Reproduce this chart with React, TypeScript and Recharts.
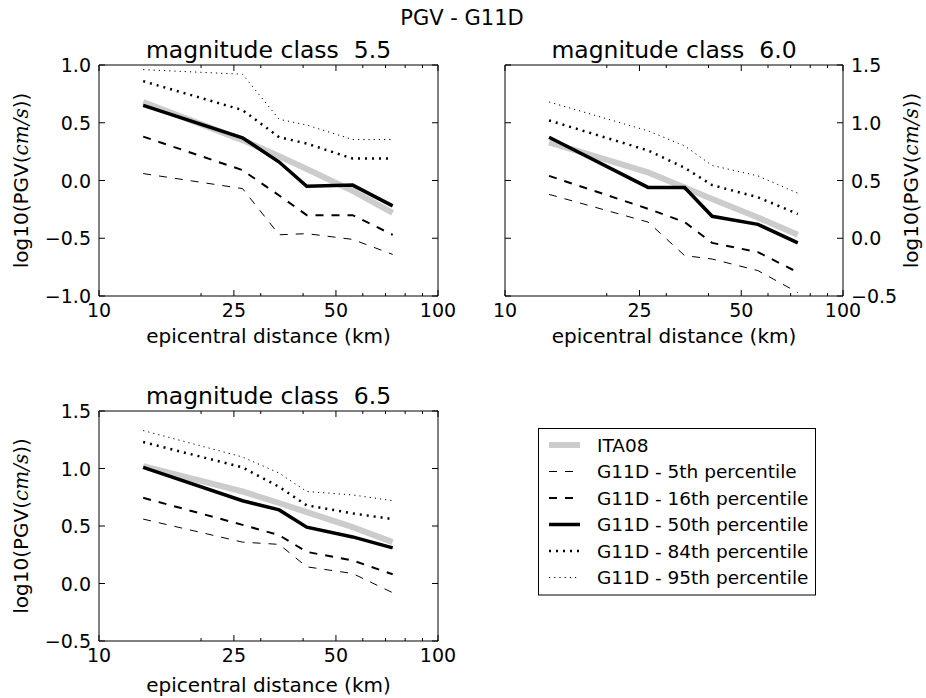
import { LineChart, Line, XAxis, YAxis } from "recharts";

const FONT = "'DejaVu Sans', sans-serif";

// epicentral distance bins (km)
const DIST = [13.5, 26.5, 34, 41, 56, 73.5];
const X_TICKS = [10, 20, 25, 30, 40, 50, 60, 70, 80, 90, 100];
const X_LABELS = [10, 25, 50, 100];
const Y_TICKS_LO = [-1, -0.5, 0, 0.5, 1];
const Y_TICKS_HI = [-0.5, 0, 0.5, 1, 1.5];

// magnitude class 5.5
const M55_ITA08 = [0.68, 0.35, 0.21, 0.1, -0.09, -0.28];
const M55_P5 = [0.06, -0.07, -0.47, -0.46, -0.51, -0.64];
const M55_P16 = [0.38, 0.09, -0.13, -0.3, -0.3, -0.47];
const M55_P50 = [0.65, 0.37, 0.16, -0.05, -0.04, -0.22];
const M55_P84 = [0.86, 0.61, 0.375, 0.32, 0.19, 0.19];
const M55_P95 = [0.96, 0.92, 0.53, 0.48, 0.355, 0.355];

// magnitude class 6.0
const M60_ITA08 = [0.83, 0.57, 0.44, 0.34, 0.18, 0.03];
const M60_P5 = [0.38, 0.14, -0.15, -0.18, -0.28, -0.47];
const M60_P16 = [0.54, 0.255, 0.14, -0.04, -0.12, -0.295];
const M60_P50 = [0.875, 0.44, 0.44, 0.19, 0.12, -0.04];
const M60_P84 = [1.02, 0.76, 0.61, 0.46, 0.355, 0.21];
const M60_P95 = [1.18, 0.93, 0.8, 0.63, 0.54, 0.39];

// magnitude class 6.5
const M65_ITA08 = [1.02, 0.8, 0.7, 0.62, 0.49, 0.36];
const M65_P5 = [0.56, 0.36, 0.34, 0.145, 0.087, -0.08];
const M65_P16 = [0.745, 0.51, 0.42, 0.275, 0.2, 0.08];
const M65_P50 = [1.01, 0.72, 0.64, 0.49, 0.405, 0.31];
const M65_P84 = [1.23, 1.01, 0.84, 0.68, 0.61, 0.56];
const M65_P95 = [1.33, 1.1, 0.96, 0.8, 0.77, 0.72];

const SERIES = [
  { key: "ita08", name: "ITA08", color: "#cccccc", width: 6, dash: undefined },
  { key: "p5", name: "G11D - 5th percentile", color: "#000", width: 1, dash: "8 8" },
  { key: "p16", name: "G11D - 16th percentile", color: "#000", width: 2, dash: "8 8" },
  { key: "p50", name: "G11D - 50th percentile", color: "#000", width: 3.5, dash: undefined },
  { key: "p84", name: "G11D - 84th percentile", color: "#000", width: 2.5, dash: "2 5" },
  { key: "p95", name: "G11D - 95th percentile", color: "#000", width: 1, dash: "1.2 4" },
];

function rows(ita: number[], p5: number[], p16: number[], p50: number[], p84: number[], p95: number[]) {
  return DIST.map((dist, i) => ({
    dist,
    ita08: ita[i],
    p5: p5[i],
    p16: p16[i],
    p50: p50[i],
    p84: p84[i],
    p95: p95[i],
  }));
}

const fmtY = (v: number) => v.toFixed(1).replace("-", "\u2212");

type Geo = { bx: number; by: number; bw: number; bh: number; x0: number; x1: number; y0: number; y1: number };

interface PanelProps {
  geo: Geo;
  title: string;
  data: ReturnType<typeof rows>;
  yDomain: [number, number];
  yTicks: number[];
  ySide: "left" | "right";
  xLabelDy: number;
  yLabelX: number;
}

const AXIS_LINE = { stroke: "#000", strokeWidth: 1 };
const TICK_FS = 19;

function Panel({ geo, title, data, yDomain, yTicks, ySide, xLabelDy, yLabelX }: PanelProps) {
  const { bx, by, bw, bh, x0, x1, y0, y1 } = geo;
  const leftW = x0 - bx;
  const rightW = bx + bw - x1;
  const topH = y0 - by;
  const bottomH = by + bh - y1;
  const cx = (x0 + x1) / 2 - bx;
  const cy = (y0 + y1) / 2 - by;

  const xTick = (side: "top" | "bottom") => (p: any) => {
    const v = p.payload.value;
    const major = X_LABELS.includes(v);
    const len = major ? 6 : 3;
    const dir = side === "bottom" ? -1 : 1;
    return (
      <g>
        <line x1={p.x} x2={p.x} y1={p.y} y2={p.y + dir * len} stroke="#000" strokeWidth={1} />
        {side === "bottom" && major && (
          <text x={p.x} y={p.y + 21} textAnchor="middle" fontSize={TICK_FS} fontFamily={FONT} fill="#000">
            {v}
          </text>
        )}
      </g>
    );
  };

  const yTick = (side: "left" | "right") => (p: any) => {
    const v = p.payload.value;
    const dir = side === "left" ? 1 : -1;
    return (
      <g>
        <line x1={p.x} x2={p.x + dir * 6} y1={p.y} y2={p.y} stroke="#000" strokeWidth={1} />
        {side === ySide && (
          <text
            x={side === "left" ? p.x - 8 : p.x + 8}
            y={p.y + 7}
            textAnchor={side === "left" ? "end" : "start"}
            fontSize={TICK_FS}
            fontFamily={FONT}
            fill="#000"
          >
            {fmtY(v)}
          </text>
        )}
      </g>
    );
  };

  const yLabel = () => {
    const lx = yLabelX - bx;
    return (
      <text
        x={lx}
        y={cy}
        transform={`rotate(-90 ${lx} ${cy})`}
        textAnchor="middle"
        fontSize={20}
        fontFamily={FONT}
        fill="#000"
      >
        log10(PGV(
        <tspan fontFamily="'DejaVu Serif', serif" fontStyle="italic">
          cm/s
        </tspan>
        ))
      </text>
    );
  };

  return (
    <div style={{ position: "absolute", left: bx, top: by }}>
      <LineChart width={bw} height={bh} data={data} margin={{ top: 0, right: 0, bottom: 0, left: 0 }}>
        <XAxis
          xAxisId="b"
          dataKey="dist"
          type="number"
          scale="log"
          domain={[10, 100]}
          allowDataOverflow
          ticks={X_TICKS}
          interval={0}
          orientation="bottom"
          height={bottomH}
          tickSize={0}
          tickMargin={0}
          tickLine={false}
          axisLine={AXIS_LINE}
          tick={xTick("bottom")}
          label={() => (
            <text x={cx} y={y1 - by + xLabelDy} textAnchor="middle" fontSize={20} fontFamily={FONT} fill="#000">
              epicentral distance (km)
            </text>
          )}
        />
        <XAxis
          xAxisId="t"
          dataKey="dist"
          type="number"
          scale="log"
          domain={[10, 100]}
          allowDataOverflow
          ticks={X_TICKS}
          interval={0}
          orientation="top"
          height={topH}
          tickSize={0}
          tickMargin={0}
          tickLine={false}
          axisLine={AXIS_LINE}
          tick={xTick("top")}
          label={() => (
            <text
              x={cx}
              y={y0 - by - 7}
              textAnchor="middle"
              fontSize={23.5}
              fontFamily={FONT}
              fill="#000"
              style={{ whiteSpace: "pre" }}
              xmlSpace="preserve"
            >
              {title}
            </text>
          )}
        />
        <YAxis
          yAxisId="l"
          type="number"
          domain={yDomain}
          allowDataOverflow
          ticks={yTicks}
          interval={0}
          orientation="left"
          width={leftW}
          tickSize={0}
          tickMargin={0}
          tickLine={false}
          axisLine={AXIS_LINE}
          tick={yTick("left")}
          label={ySide === "left" ? yLabel : undefined}
        />
        <YAxis
          yAxisId="r"
          type="number"
          domain={yDomain}
          allowDataOverflow
          ticks={yTicks}
          interval={0}
          orientation="right"
          width={rightW}
          tickSize={0}
          tickMargin={0}
          tickLine={false}
          axisLine={AXIS_LINE}
          tick={yTick("right")}
          label={ySide === "right" ? yLabel : undefined}
        />
        {SERIES.map((s) => (
          <Line
            key={s.key}
            xAxisId="b"
            yAxisId="l"
            type="linear"
            dataKey={s.key}
            name={s.name}
            stroke={s.color}
            strokeWidth={s.width}
            strokeDasharray={s.dash}
            dot={false}
            activeDot={false}
            isAnimationActive={false}
          />
        ))}
      </LineChart>
    </div>
  );
}

const G1: Geo = { bx: 0, by: 20, bw: 460, bh: 331, x0: 99, x1: 438, y0: 65, y1: 296 };
const G2: Geo = { bx: 470, by: 20, bw: 456, bh: 331, x0: 505, x1: 843, y0: 65, y1: 296 };
const G3: Geo = { bx: 0, by: 366, bw: 460, bh: 332, x0: 99, x1: 438, y0: 411, y1: 641 };

const LEGEND_ROW0 = 445;
const LEGEND_STEP = 26.5;

export default function App() {
  return (
    <div style={{ position: "absolute", left: 0, top: 0, width: 926, height: 698, background: "#fff" }}>
      <Panel
        geo={G1}
        title="magnitude class  5.5"
        data={rows(M55_ITA08, M55_P5, M55_P16, M55_P50, M55_P84, M55_P95)}
        yDomain={[-1, 1]}
        yTicks={Y_TICKS_LO}
        ySide="left"
        xLabelDy={47}
        yLabelX={28}
      />
      <Panel
        geo={G2}
        title="magnitude class  6.0"
        data={rows(M60_ITA08, M60_P5, M60_P16, M60_P50, M60_P84, M60_P95)}
        yDomain={[-0.5, 1.5]}
        yTicks={Y_TICKS_HI}
        ySide="right"
        xLabelDy={47}
        yLabelX={918}
      />
      <Panel
        geo={G3}
        title="magnitude class  6.5"
        data={rows(M65_ITA08, M65_P5, M65_P16, M65_P50, M65_P84, M65_P95)}
        yDomain={[-0.5, 1.5]}
        yTicks={Y_TICKS_HI}
        ySide="left"
        xLabelDy={51}
        yLabelX={28}
      />
      <svg
        width={926}
        height={698}
        style={{ position: "absolute", left: 0, top: 0, pointerEvents: "none" }}
      >
        <text x={462} y={25} textAnchor="middle" fontSize={21} fontFamily={FONT} fill="#000">
          PGV - G11D
        </text>
        {/* Legend */}
        <rect x={538.5} y={428.5} width={277} height={166.5} fill="#fff" stroke="#000" strokeWidth={1} />
        {SERIES.map((s, i) => {
          const yy = LEGEND_ROW0 + i * LEGEND_STEP;
          return (
            <g key={s.key}>
              <line
                x1={549}
                x2={580}
                y1={yy}
                y2={yy}
                stroke={s.color}
                strokeWidth={s.width}
                strokeDasharray={s.dash}
              />
              <text x={597} y={yy + 6.5} fontSize={18.5} fontFamily={FONT} fill="#000">
                {s.name}
              </text>
            </g>
          );
        })}
      </svg>
    </div>
  );
}
